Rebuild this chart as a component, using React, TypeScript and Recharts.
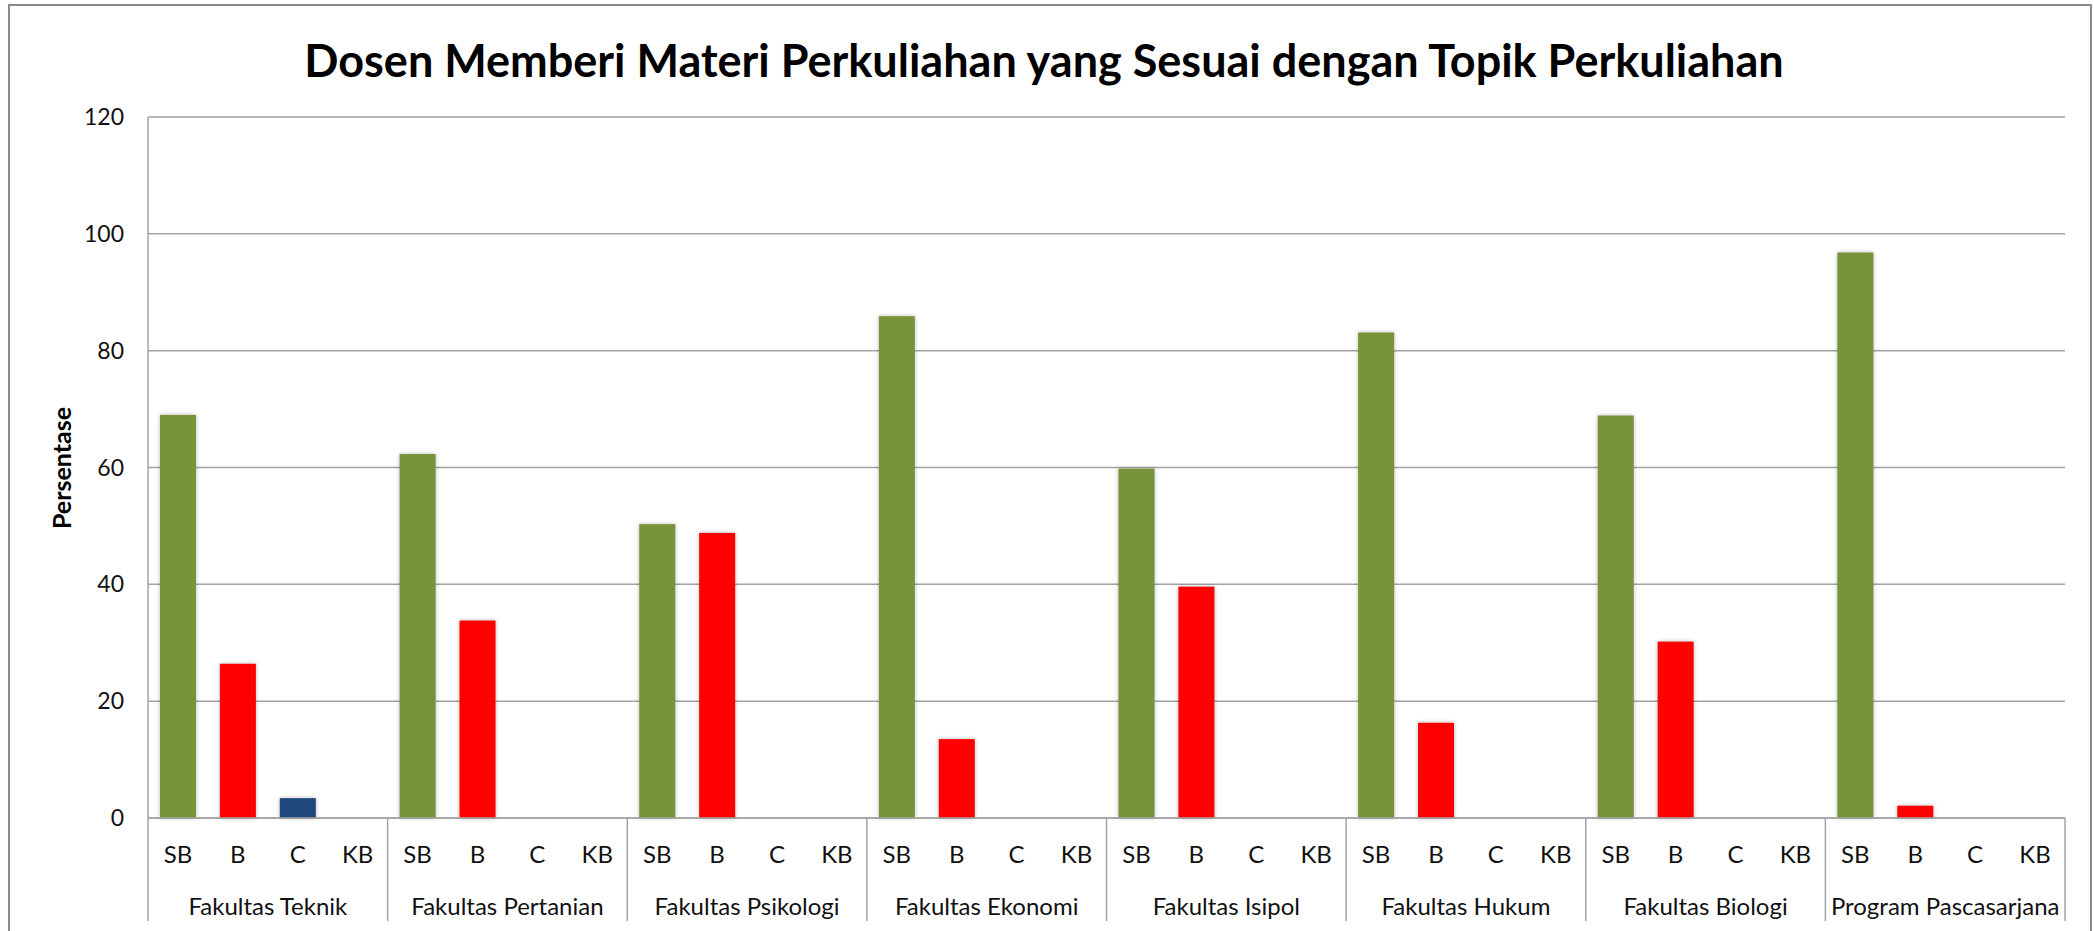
import React from "react";
import { BarChart, Bar, XAxis, YAxis, CartesianGrid, Cell } from "recharts";

const groups = [
  "Fakultas Teknik",
  "Fakultas Pertanian",
  "Fakultas Psikologi",
  "Fakultas Ekonomi",
  "Fakultas Isipol",
  "Fakultas Hukum",
  "Fakultas Biologi",
  "Program Pascasarjana",
];
const ratings = ["SB", "B", "C", "KB"];
const sbValues = [69.0, 62.3, 50.3, 85.9, 59.8, 83.1, 68.9, 96.8];
const bValues = [26.4, 33.8, 48.8, 13.5, 39.6, 16.3, 30.2, 2.1];
const cValues = [3.4, 0, 0, 0, 0, 0, 0, 0];
const kbValues = [0, 0, 0, 0, 0, 0, 0, 0];
const yTicks = [0, 20, 40, 60, 80, 100, 120];
const ratingColors: Record<string, string> = {
  SB: "#77933C",
  B: "#FF0000",
  C: "#1F497D",
  KB: "#7F6084",
};

const seriesByRating: Record<string, number[]> = {
  SB: sbValues,
  B: bValues,
  C: cValues,
  KB: kbValues,
};

const data = groups.flatMap((g, gi) =>
  ratings.map((r) => ({ group: g, sub: r, value: seriesByRating[r][gi] }))
);

const W = 2094;
const H = 931;
const FONT = "Lato, 'Open Sans', sans-serif";
const AXIS_Y = 818;
const SEP_BOTTOM = 921;
const GRID = "#A3A3A3";

const SubTick = (props: any) => {
  const { x, y, payload, index } = props;
  const half = payload && payload.offset ? payload.offset : 30;
  const lines = [];
  if (index % 4 === 0) {
    lines.push(
      <line key="l" x1={x - half} x2={x - half} y1={AXIS_Y} y2={SEP_BOTTOM} stroke={GRID} strokeWidth={1.5} />
    );
  }
  if (index === data.length - 1) {
    lines.push(
      <line key="r" x1={x + half} x2={x + half} y1={AXIS_Y} y2={SEP_BOTTOM} stroke={GRID} strokeWidth={1.5} />
    );
  }
  return (
    <g>
      {lines}
      <text x={x} y={y + 27} textAnchor="middle" dominantBaseline="central" fontFamily={FONT} fontSize={24} fill="#111">
        {payload.value}
      </text>
    </g>
  );
};

const GroupTick = (props: any) => {
  const { x, y, payload } = props;
  return (
    <text x={x} y={y + 19} textAnchor="middle" dominantBaseline="central" fontFamily={FONT} fontSize={24} fill="#111">
      {payload.value}
    </text>
  );
};

const ShadowBar = (props: any) => {
  const { x, y, width, height, fill } = props;
  if (!height || height <= 0) return null;
  return (
    <rect
      x={x}
      y={y}
      width={width}
      height={height}
      fill={fill}
      style={{ filter: "drop-shadow(0px 0px 2px rgba(0,0,0,0.28))" }}
    />
  );
};

export default function App() {
  return (
    <div
      style={{
        position: "absolute",
        left: 0,
        top: 0,
        width: W,
        height: H,
        background: "#fff",
        overflow: "hidden",
      }}
    >
      <div
        style={{
          position: "absolute",
          left: 8,
          top: 4,
          width: W - 10,
          height: H + 20,
          border: "2px solid #8a8a8a",
          boxSizing: "border-box",
        }}
      />
      <div
        style={{
          position: "absolute",
          left: 0,
          top: 30,
          width: W - 6,
          textAlign: "center",
          fontFamily: FONT,
          fontWeight: 700,
          fontSize: 45,
          color: "#000",
          lineHeight: "60px",
          whiteSpace: "nowrap",
        }}
      >
        Dosen Memberi Materi Perkuliahan yang Sesuai dengan Topik Perkuliahan
      </div>
      <div
        style={{
          position: "absolute",
          left: 61,
          top: 468,
          transform: "translate(-50%, -50%) rotate(-90deg)",
          fontFamily: FONT,
          fontWeight: 700,
          fontSize: 25,
          color: "#000",
          whiteSpace: "nowrap",
        }}
      >
        Persentase
      </div>
      <div style={{ position: "absolute", left: 0, top: 0 }}>
        <BarChart
          width={W}
          height={H}
          data={data}
          margin={{ top: 117, right: 29, bottom: 0, left: 0 }}
        >
          <CartesianGrid xAxisId="axisA" vertical={false} stroke={GRID} strokeWidth={1.5} />
          <XAxis
            xAxisId="axisA"
            dataKey="sub"
            interval={0}
            height={60}
            tickLine={false}
            axisLine={{ stroke: GRID, strokeWidth: 1.5 }}
            tick={<SubTick />}
          />
          <XAxis
            xAxisId="axisB"
            dataKey="group"
            allowDuplicatedCategory={false}
            interval={0}
            height={53}
            tickLine={false}
            axisLine={false}
            tick={<GroupTick />}
          />
          <YAxis
            domain={[0, 120]}
            ticks={yTicks}
            width={148}
            tickLine={false}
            axisLine={{ stroke: GRID, strokeWidth: 1.5 }}
            tick={{ fontFamily: FONT, fontSize: 23, fill: "#111" }}
            tickMargin={18}
          />
          <Bar xAxisId="axisA" dataKey="value" barSize={36} isAnimationActive={false} shape={<ShadowBar />}>
            {data.map((d, i) => (
              <Cell key={i} fill={ratingColors[d.sub]} />
            ))}
          </Bar>
        </BarChart>
      </div>
    </div>
  );
}
